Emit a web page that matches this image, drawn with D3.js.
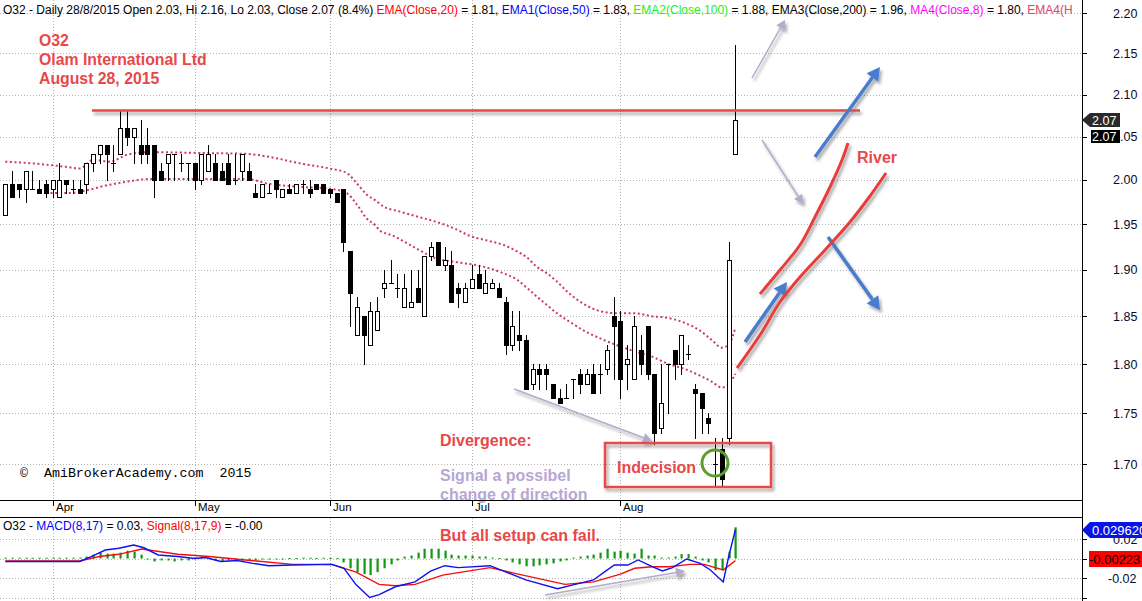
<!DOCTYPE html>
<html><head><meta charset="utf-8">
<script src="https://cdn.jsdelivr.net/npm/d3@7"></script>
<style>body{margin:0;background:#fff}svg{display:block}text{font-family:Arial,"Liberation Sans",sans-serif}text.mono{font-family:"Liberation Mono","DejaVu Sans Mono",monospace}</style>
</head><body><svg id="c" width="1142" height="601"></svg>
<script>
// ---------- DATA ----------
const opens=[1.96,1.995,1.995,1.99,1.99,1.99,1.995,1.99,1.98,2.00,1.99,1.99,1.995,2.02,2.03,2.04,2.02,2.03,2.06,2.05,2.04,2.04,2.04,2.01,2.02,2.03,2.02,2.02,2.02,2.00,2.01,2.02,2.01,2.02,2.00,2.01,2.01,1.985,1.98,1.985,2.00,1.98,1.99,1.985,1.995,1.99,1.995,1.995,1.99,1.985,1.99,1.92,1.83,1.85,1.82,1.835,1.88,1.885,1.88,1.86,1.86,1.88,1.85,1.915,1.93,1.905,1.905,1.88,1.865,1.88,1.895,1.875,1.88,1.88,1.865,1.82,1.83,1.825,1.78,1.795,1.795,1.78,1.765,1.765,1.785,1.79,1.78,1.79,1.79,1.795,1.85,1.845,1.80,1.785,1.815,1.84,1.79,1.735,1.80,1.815,1.80,1.81,1.775,1.77,1.745,1.70,1.715,1.725,2.03];
const highs=[1.995,2.01,1.995,2.01,2.01,2.00,2.00,2.00,2.02,2.00,2.00,2.00,2.02,2.03,2.04,2.04,2.04,2.08,2.08,2.06,2.07,2.06,2.04,2.02,2.03,2.03,2.03,2.02,2.02,2.03,2.04,2.03,2.02,2.03,2.03,2.03,2.02,1.995,1.995,1.995,2.00,1.99,1.995,1.995,2.00,2.00,1.995,1.995,1.99,1.985,1.99,1.92,1.87,1.85,1.865,1.87,1.90,1.91,1.895,1.895,1.90,1.90,1.915,1.93,1.93,1.925,1.92,1.885,1.885,1.905,1.905,1.90,1.89,1.885,1.87,1.855,1.855,1.83,1.80,1.80,1.80,1.78,1.775,1.78,1.785,1.795,1.795,1.80,1.80,1.82,1.87,1.855,1.82,1.85,1.83,1.84,1.79,1.80,1.80,1.815,1.83,1.82,1.78,1.77,1.75,1.725,1.725,1.93,2.16];
const lows=[1.96,1.98,1.98,1.975,1.99,1.985,1.98,1.98,1.98,1.985,1.985,1.985,1.985,2.01,2.02,2.00,2.01,2.03,2.04,2.02,2.02,2.02,1.98,2.00,2.00,2.00,2.01,2.00,1.99,1.995,2.01,2.00,2.00,1.995,1.995,2.00,2.00,1.98,1.98,1.985,1.98,1.98,1.985,1.985,1.985,1.98,1.99,1.985,1.98,1.975,1.92,1.84,1.83,1.80,1.82,1.835,1.87,1.885,1.87,1.86,1.86,1.865,1.85,1.91,1.905,1.90,1.865,1.86,1.865,1.88,1.88,1.875,1.88,1.87,1.81,1.815,1.815,1.775,1.775,1.775,1.775,1.765,1.76,1.765,1.765,1.77,1.78,1.77,1.77,1.79,1.785,1.765,1.775,1.785,1.79,1.785,1.72,1.73,1.75,1.785,1.79,1.805,1.725,1.73,1.73,1.68,1.68,1.72,2.03];
const closes=[1.995,1.98,1.99,2.01,1.99,1.985,1.985,2.00,2.00,1.995,1.99,1.985,2.02,2.03,2.04,2.03,2.02,2.06,2.05,2.06,2.03,2.03,2.00,2.00,2.03,2.03,2.02,2.02,2.00,2.03,2.03,2.00,2.00,1.995,2.00,2.03,2.00,1.98,1.995,1.985,1.99,1.99,1.985,1.995,1.995,1.985,1.99,1.985,1.985,1.975,1.93,1.875,1.86,1.83,1.855,1.855,1.885,1.885,1.88,1.88,1.865,1.865,1.915,1.925,1.905,1.91,1.865,1.875,1.88,1.89,1.88,1.885,1.885,1.87,1.82,1.84,1.825,1.775,1.795,1.79,1.79,1.765,1.76,1.765,1.785,1.78,1.79,1.77,1.79,1.815,1.84,1.785,1.805,1.84,1.80,1.79,1.73,1.76,1.80,1.80,1.83,1.81,1.77,1.755,1.74,1.70,1.685,1.91,2.07];
const upperBand=[[0,2.021],[4,2.019],[9,2.015],[11,2.013],[13,2.023],[15.5,2.021],[18,2.029],[21,2.032],[29,2.031],[35.7,2.030],[38.7,2.027],[43.6,2.019],[48,2.013],[50.5,2.008],[52,1.996],[53.5,1.983],[54.7,1.977],[55.9,1.970],[58.4,1.964],[66.8,1.944],[68.7,1.937],[71.2,1.932],[73.7,1.927],[75.7,1.920],[77.2,1.913],[78.6,1.903],[80.1,1.896],[81.6,1.887],[83.3,1.875],[85.8,1.862],[88.2,1.855],[90.7,1.853],[93.2,1.853],[95.6,1.850],[98.1,1.848],[100.5,1.843],[102.5,1.836],[104.5,1.825],[106,1.817],[107,1.820],[108,1.838]];
const lowerBand=[[6,1.985],[9,1.985],[12,1.988],[14,1.992],[18,1.998],[21.4,2.001],[27.8,2.001],[35.7,2.001],[38.7,1.996],[43.6,1.992],[48,1.990],[50.5,1.985],[52,1.972],[53.5,1.956],[54.7,1.949],[55.4,1.943],[57.4,1.937],[59.4,1.929],[61.3,1.921],[63.8,1.912],[66.8,1.908],[70.2,1.904],[72.2,1.900],[73.7,1.896],[75.7,1.889],[77.2,1.880],[78.6,1.871],[80.1,1.862],[81.8,1.852],[83.3,1.845],[85.8,1.834],[88.2,1.826],[90.7,1.819],[93.2,1.813],[95.6,1.808],[98.1,1.800],[100.5,1.795],[102.5,1.789],[104.5,1.782],[106,1.776],[107,1.779],[108,1.790]];
const macdLine=[[0,-0.003],[11,-0.003],[12.7,0.002],[14.8,0.0087],[16.8,0.0105],[19,0.0138],[20.5,0.011],[22.6,0.0036],[25.5,0.002],[28,0],[29.6,0.001],[31.9,-0.003],[34.3,-0.002],[36.6,-0.005],[39,-0.0074],[42.5,-0.0067],[48.3,-0.006],[50.1,-0.010],[51.9,-0.027],[53.9,-0.040],[55.3,-0.037],[57.7,-0.029],[60.6,-0.024],[62.9,-0.013],[65,-0.0074],[67,-0.0094],[71.7,-0.0074],[74.1,-0.014],[77,-0.022],[81.7,-0.031],[84,-0.027],[87,-0.022],[88.7,-0.0135],[90.1,-0.0067],[92.1,-0.0067],[93.6,-0.0015],[95.7,-0.0084],[97.2,-0.0128],[98.7,-0.0094],[100.8,-0.0005],[102.8,-0.005],[104.3,-0.0118],[106.2,-0.024],[107,0.0018],[108,0.0296]];
const signalLine=[[0,-0.0025],[11,-0.0025],[13.9,0.002],[16.8,0.0043],[20.2,0.0097],[25.5,0.0043],[30.2,0.002],[35.5,-0.0015],[42.5,-0.006],[48.3,-0.006],[51.9,-0.014],[55.3,-0.0265],[57.7,-0.028],[60.6,-0.0265],[64.7,-0.017],[71.7,-0.0094],[75.2,-0.015],[82.8,-0.0265],[87,-0.024],[91,-0.016],[93.1,-0.010],[95.7,-0.0084],[98.2,-0.0084],[101.3,-0.006],[103.4,-0.006],[106.2,-0.0118],[108,-0.0022]];
const histogram=[0.0008,0.0008,0.0008,0.0008,0.0008,0.0008,0.0008,0.0008,0.0008,0.0008,0.0008,0.001,0.002,0.004,0.006,0.005,0.005,0.006,0.008,0.007,0.004,-0.001,-0.003,-0.002,-0.002,-0.003,-0.002,-0.002,0.001,0.002,0.001,-0.002,-0.003,-0.002,-0.001,-0.002,-0.002,-0.002,-0.001,-0.001,-0.001,-0.001,0.0005,0.0005,0.0008,0.0008,0.0005,0.0008,0.0005,0.0005,-0.004,-0.01,-0.014,-0.016,-0.017,-0.014,-0.01,-0.006,-0.002,0.002,0.003,0.006,0.01,0.01,0.01,0.008,0.004,0.003,0.003,0.003,0.002,0.002,0.001,0.0005,-0.002,-0.004,-0.006,-0.008,-0.008,-0.007,-0.006,-0.005,-0.003,-0.002,0.001,0.002,0.003,0.004,0.006,0.01,0.007,0.008,0.006,0.005,0.01,0.003,0.003,0.001,0.001,0.002,0.0045,0.0045,0.002,-0.002,-0.004,-0.012,-0.012,0.007,0.032];
const priceTicks=[2.20,2.15,2.10,2.05,2.00,1.95,1.90,1.85,1.80,1.75,1.70];
const macdTicks=[0.02,0,-0.02,-0.04];
const macdTickLabels=["0.02","","-0.02",""];
const monthLabels=["Apr","May","Jun","Jul","Aug"];
const monthIndex=[7,28,48,69,91];

// ---------- SCALES ----------
const svg=d3.select("#c");
svg.append("rect").attr("width",1142).attr("height",601).attr("fill","#fff");
const AX=1082;
const x=d3.scaleLinear().domain([0,108]).range([5.3,735.4]);
const y=d3.scaleLog().domain([2.2,1.7]).range([13.3,464]);
const ym=d3.scaleLinear().domain([0.02,-0.02]).range([539,578]);

const defs=svg.append("defs");
const f=defs.append("filter").attr("id","sh").attr("x","-20%").attr("y","-50%").attr("width","140%").attr("height","200%");
f.append("feDropShadow").attr("dx",2).attr("dy",3).attr("stdDeviation",1.6).attr("flood-color","#000").attr("flood-opacity",0.35);
defs.append("clipPath").attr("id","cpMain").append("rect").attr("x",0).attr("y",0).attr("width",AX).attr("height",500);
defs.append("clipPath").attr("id","cpMacd").append("rect").attr("x",0).attr("y",518).attr("width",AX).attr("height",83);
defs.append("clipPath").attr("id","cpHead").append("rect").attr("x",0).attr("y",0).attr("width",AX-2).attr("height",20);
defs.append("clipPath").attr("id","cpAnn").append("rect").attr("x",0).attr("y",0).attr("width",AX).attr("height",503);

// ---------- GRID ----------
const grid=svg.append("g").attr("stroke","#b4b4b4").attr("stroke-dasharray","1,2").attr("stroke-width",1);
priceTicks.forEach(p=>{const yy=Math.round(y(p))+0.5;grid.append("line").attr("x1",0).attr("x2",AX).attr("y1",yy).attr("y2",yy);});
macdTicks.forEach(v=>{const yy=Math.round(ym(v))+0.5;grid.append("line").attr("x1",0).attr("x2",AX).attr("y1",yy).attr("y2",yy);});
monthIndex.forEach(i=>{const xx=Math.round(x(i))+0.5;
  grid.append("line").attr("x1",xx).attr("x2",xx).attr("y1",0).attr("y2",500);
  grid.append("line").attr("x1",xx).attr("x2",xx).attr("y1",518).attr("y2",601);});

// ---------- BANDS ----------
const main=svg.append("g").attr("clip-path","url(#cpMain)");
const bandLine=d3.line().x(d=>x(d[0])).y(d=>y(d[1])).curve(d3.curveMonotoneX);
[upperBand,lowerBand].forEach(b=>main.append("path").attr("d",bandLine(b)).attr("fill","none")
  .attr("stroke","#cc3a62").attr("stroke-width",2).attr("stroke-dasharray","2,2.6"));

// ---------- CANDLES ----------
const cg=main.append("g");
closes.forEach((c,i)=>{
  const o=opens[i],h=highs[i],l=lows[i];
  const cx=Math.round(x(i));
  cg.append("line").attr("x1",cx+0.5).attr("x2",cx+0.5).attr("y1",Math.round(y(h))).attr("y2",Math.round(y(l))+1)
    .attr("stroke","#000").attr("stroke-width",1);
  let t=Math.round(y(Math.max(o,c))), b=Math.round(y(Math.min(o,c)));
  if(b-t<1){cg.append("line").attr("x1",cx-2).attr("x2",cx+3).attr("y1",t+0.5).attr("y2",t+0.5).attr("stroke","#000");}
  else cg.append("rect").attr("x",cx-1.5).attr("y",t+0.5).attr("width",4).attr("height",b-t)
    .attr("fill",c>=o?"#fff":"#000").attr("stroke","#000").attr("stroke-width",1);
});

// ---------- MACD ----------
const mg=svg.append("g").attr("clip-path","url(#cpMacd)");
histogram.forEach((v,i)=>{const cx=Math.round(x(i));const y0=ym(0),y1=ym(v);
  mg.append("rect").attr("x",cx-0.5).attr("width",2.2).attr("y",Math.min(y0,y1)).attr("height",Math.max(1,Math.abs(y1-y0))).attr("fill","#129812");});
const ml=d3.line().x(d=>x(d[0])).y(d=>ym(d[1]));
mg.append("path").attr("d",ml(signalLine)).attr("fill","none").attr("stroke","#f01010").attr("stroke-width",1.4);
mg.append("path").attr("d",ml(macdLine)).attr("fill","none").attr("stroke","#1010f0").attr("stroke-width",1.4);

// ---------- ANNOTATION TEXT in price pane ----------
const red="#e84848";
const at=svg.append("g").attr("font-weight","bold").attr("font-size","16px").attr("clip-path","url(#cpAnn)");
at.append("text").attr("x",440).attr("y",446).attr("fill",red).text("Divergence:");
at.append("text").attr("x",617).attr("y",473).attr("fill",red).text("Indecision");
at.append("text").attr("x",857).attr("y",163).attr("fill",red).text("River");
at.append("text").attr("x",440).attr("y",481).attr("fill","#b8a6d3").text("Signal a possibel");
at.append("text").attr("x",440).attr("y",500).attr("fill","#b8a6d3").text("change of direction");

// ---------- FRAMES / AXES ----------
const ax=svg.append("g").attr("stroke","#000").attr("stroke-width",1);
ax.append("line").attr("x1",AX+0.5).attr("x2",AX+0.5).attr("y1",0).attr("y2",601);
ax.append("line").attr("x1",0).attr("x2",AX).attr("y1",500.5).attr("y2",500.5);
ax.append("line").attr("x1",0).attr("x2",AX).attr("y1",517.5).attr("y2",517.5);
priceTicks.forEach(p=>{const yy=Math.round(y(p))+0.5;ax.append("line").attr("x1",AX).attr("x2",AX+5).attr("y1",yy).attr("y2",yy);});
macdTicks.forEach(v=>{const yy=Math.round(ym(v))+0.5;ax.append("line").attr("x1",AX).attr("x2",AX+5).attr("y1",yy).attr("y2",yy);});
monthIndex.forEach(i=>{const xx=Math.round(x(i))+0.5;ax.append("line").attr("x1",xx).attr("x2",xx).attr("y1",501).attr("y2",506);});

const lab=svg.append("g").attr("font-size","12.5px").attr("fill","#0a0a2a");
priceTicks.forEach(p=>lab.append("text").attr("x",1113).attr("y",y(p)+4.5).text(p.toFixed(2)));
macdTicks.forEach((v,k)=>{if(macdTickLabels[k])lab.append("text").attr("x",v<0?1108:1113).attr("y",ym(v)+4.5).text(macdTickLabels[k]);});
monthLabels.forEach((m,k)=>svg.append("text").attr("x",Math.round(x(monthIndex[k]))+3).attr("y",511).attr("font-size","11.5px").attr("fill","#000").text(m));

// ---------- HEADER ----------
const hd=svg.append("text").attr("x",3).attr("y",14).attr("font-size","12px").attr("clip-path","url(#cpHead)");
[["O32 - Daily 28/8/2015 Open 2.03, Hi 2.16, Lo 2.03, Close 2.07 (8.4%) ","#000"],["EMA(Close,20)","#ff0000"],[" = 1.81, ","#000"],
 ["EMA1(Close,50)","#0000ff"],[" = 1.83, ","#000"],["EMA2(Close,100)","#22ee22"],[" = 1.88, ","#000"],["EMA3(Close,200) = 1.96, ","#000"],
 ["MA4(Close,8)","#ff00ff"],[" = 1.80, ","#000"],["EMA4(H","#dd4466"]].forEach(s=>hd.append("tspan").attr("fill",s[1]).text(s[0]));
const md=svg.append("text").attr("x",3).attr("y",530).attr("font-size","12px");
[["O32 - ","#000"],["MACD(8,17)","#0000ff"],[" = 0.03, ","#000"],["Signal(8,17,9)","#ff0000"],[" = -0.00","#000"]].forEach(s=>md.append("tspan").attr("fill",s[1]).text(s[0]));

// ---------- TAGS ----------
svg.append("path").attr("d","M1082,120 L1090,113 L1120,113 L1120,127 L1090,127 Z").attr("fill","#2a2a2a");
svg.append("text").attr("x",1092).attr("y",124.5).attr("fill","#fff").attr("font-size","12.5px").text("2.07");
svg.append("rect").attr("x",1091).attr("y",130).attr("width",29).attr("height",13).attr("fill","#000");
svg.append("text").attr("x",1092).attr("y",141).attr("fill","#fff").attr("font-size","12.5px").text("2.07");
svg.append("path").attr("d","M1082,530 L1090,522 L1142,522 L1142,538 L1090,538 Z").attr("fill","#0a14e6");
svg.append("text").attr("x",1092).attr("y",534.5).attr("fill","#fff").attr("font-size","13px").text("0.029620");
svg.append("rect").attr("x",1089).attr("y",551).attr("width",53).attr("height",16).attr("fill","#ff0000");
svg.append("text").attr("x",1089).attr("y",563.5).attr("fill","#000").attr("font-size","13px").text("-0.00223");

// ---------- ANNOTATIONS ----------
const tt=svg.append("g").attr("font-weight","bold").attr("font-size","15.8px").attr("fill",red);
tt.append("text").attr("x",39).attr("y",46).text("O32");
tt.append("text").attr("x",39).attr("y",65).text("Olam International Ltd");
tt.append("text").attr("x",39).attr("y",83.5).text("August 28, 2015");

const an=svg.append("g").attr("filter","url(#sh)");
an.append("line").attr("x1",92).attr("x2",860).attr("y1",110.5).attr("y2",110.5).attr("stroke","#e44848").attr("stroke-width",2.5);

function arrow(g,x1,y1,x2,y2,col,w,hl){
  const a=Math.atan2(y2-y1,x2-x1), hw=hl*0.55;
  const bx=x2-hl*Math.cos(a), by=y2-hl*Math.sin(a);
  g.append("line").attr("x1",x1).attr("y1",y1).attr("x2",bx).attr("y2",by).attr("stroke",col).attr("stroke-width",w);
  g.append("path").attr("d",`M${x2},${y2} L${bx+hw*Math.sin(a)},${by-hw*Math.cos(a)} L${bx-hw*Math.sin(a)},${by+hw*Math.cos(a)} Z`).attr("fill",col);
}
const lil="#b4aacb";
arrow(an,752,78,785,20,lil,1.5,9);
arrow(an,762,140,803,204,lil,1.5,9);
arrow(an,514,389,652,441,lil,1.5,9);
arrow(an,545,595,685,571,lil,1.5,9);
const blue="#4a7ccc";
arrow(an,815,157,880,67,blue,3.5,13);
arrow(an,745,342,787,282,blue,3.5,13);
arrow(an,828,237,880,310,blue,3.5,13);
const curve=d3.line().curve(d3.curveCatmullRom);
an.append("path").attr("d",curve([[760,294],[780,270],[800,245],[815,217],[830,187],[842,160],[848,143]])).attr("fill","none").attr("stroke","#e83c3c").attr("stroke-width",3);
an.append("path").attr("d",curve([[737,368],[760,335],[780,302],[800,277],[825,250],[850,222],[870,196],[886,173]])).attr("fill","none").attr("stroke","#e83c3c").attr("stroke-width",3);

an.append("rect").attr("x",605).attr("y",443).attr("width",166).attr("height",44).attr("fill","none").attr("stroke","#e84848").attr("stroke-width",2.5);
svg.append("circle").attr("cx",715).attr("cy",463).attr("r",13).attr("fill","none").attr("stroke","#5c9e2e").attr("stroke-width",3);

svg.append("text").attr("x",440).attr("y",541).attr("font-weight","bold").attr("font-size","16px").attr("fill",red).text("But all setup can fail.");

svg.append("text").attr("class","mono").attr("x",20).attr("y",477).attr("font-size","13.3px").attr("fill","#000")
  .text("©\u00a0\u00a0AmiBrokerAcademy.com\u00a0\u00a02015");
</script></body></html>
